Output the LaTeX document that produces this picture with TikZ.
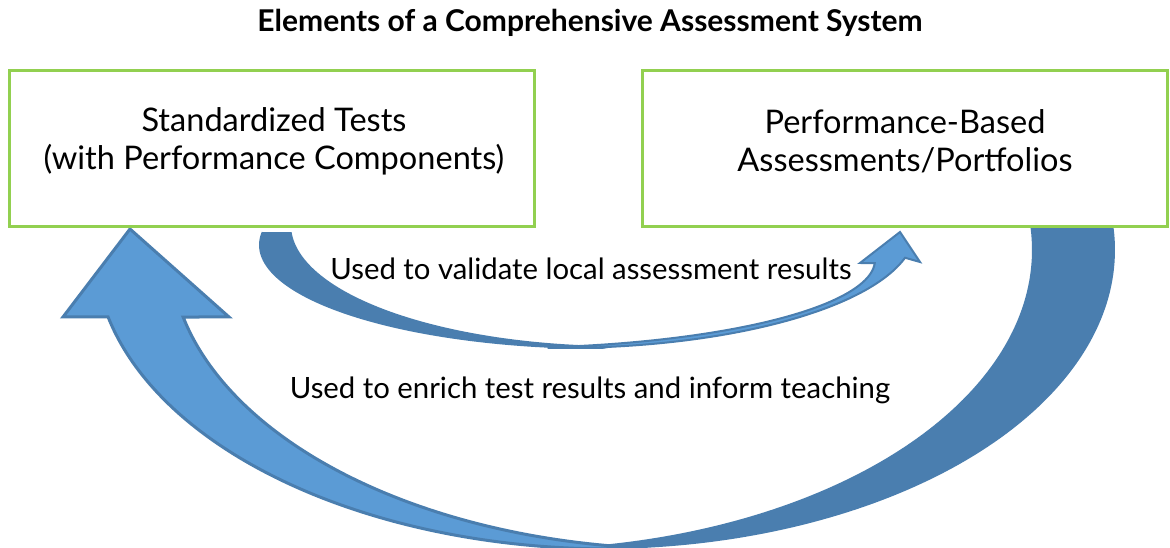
\documentclass[tikz,border=0pt]{standalone}
\usepackage{fontspec}
\setmainfont{Lato}
\definecolor{boxgreen}{HTML}{92D050}
\definecolor{backblue}{HTML}{4A7EAF}
\definecolor{frontblue}{HTML}{5B9BD5}
\begin{document}
\begin{tikzpicture}[x=0.75pt,y=-0.75pt,
  box/.style={draw=boxgreen,line width=2.25pt,minimum width=394.1pt,minimum height=117pt,inner sep=0pt},
  boxtext/.style={align=center,inner sep=0pt,font=\fontsize{24.4}{28.5}\selectfont},
  lbl/.style={inner sep=0pt,font=\fontsize{22}{26}\selectfont},
  ttl/.style={inner sep=0pt,font=\fontsize{22.5}{26}\selectfont\bfseries},
  back/.style={fill=backblue,draw=none},
  front/.style={fill=frontblue,draw=backblue,line join=miter}]
\useasboundingbox (0,0) rectangle (1170,548);
\fill[white] (0,0) rectangle (1170,548);

% title
\node[ttl] (title) at (590,23) {Elements of a Comprehensive Assessment System};

% big arrow: back band (right) then front shaft with head (left)
\fill[back] plot[domain=-4.22:94.62,samples=90,variable=\t] ({600+515*cos(\t)},{250+299*sin(\t)})
  -- plot[domain=85.38:-4.22,samples=90,variable=\t] ({517+515*cos(\t)},{250+299*sin(\t)}) -- cycle;
\filldraw[front,line width=2.25pt] plot[domain=94.18:167.05,samples=90,variable=\t] ({685+515*cos(\t)},{250+299*sin(\t)})
  -- (229,317) -- (130,229) -- (63,317)
  -- plot[domain=167.05:85.82,samples=90,variable=\t] ({610+515*cos(\t)},{250+299*sin(\t)}) -- cycle;

% small arrow: back band (left) then front shaft with head (right)
\fill[back] plot[domain=187.18:90,samples=80,variable=\t] ({602+343*cos(\t)},{245+104*sin(\t)})
  -- plot[domain=90:176.68,samples=80,variable=\t] ({620+329*cos(\t)},{225+121*sin(\t)}) -- cycle;
\filldraw[front,line width=1.5pt] plot[domain=92:13.6,samples=80,variable=\t] ({560+355*cos(\t)},{230+118*sin(\t)})
  -- (920,262) -- (900,232) -- (860,263)
  -- plot[domain=2:82,samples=80,variable=\t] ({500+375*cos(\t)},{260+88*sin(\t)}) -- cycle;

% boxes
\node[box] (std) at (272.25,149) {};
\node[box] (pba) at (904.75,149) {};
\node[boxtext] (stdtext) at (274,141) {Standardized Tests\\(with Performance Components)};
\node[boxtext] (pbatext) at (905,141) {Performance-Based\\Assessments/Portfolios};

% labels
\node[lbl] (validate) at (591,269) {Used to validate local assessment results};
\node[lbl] (enrich) at (590,390) {Used to enrich test results and inform teaching};
\end{tikzpicture}
\end{document}
